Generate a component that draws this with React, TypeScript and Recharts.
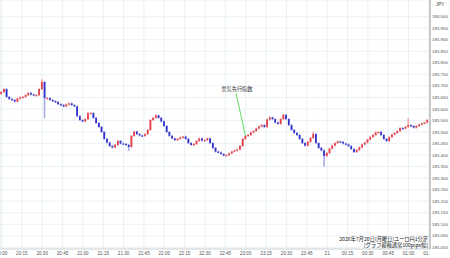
import React from 'react';
import { ComposedChart, Bar, XAxis, YAxis, CartesianGrid, ReferenceLine, ReferenceDot } from 'recharts';

// EUR/JPY 1-minute chart, resampled to 2-minute candles (minutes after 20:00)
const candleMinutes = 2;
const firstOpen = 185.665;
const closes: number[] = [
  185.673, 185.686, 185.652, 185.643, 185.639, 185.632, 185.645, 185.650, 185.652, 185.660,
  185.669, 185.663, 185.660, 185.660, 185.686, 185.717, 185.647, 185.647, 185.639, 185.634,
  185.630, 185.621, 185.617, 185.611, 185.619, 185.624, 185.617, 185.611, 185.569, 185.552,
  185.546, 185.556, 185.582, 185.582, 185.561, 185.539, 185.522, 185.500, 185.470, 185.454,
  185.439, 185.433, 185.444, 185.461, 185.450, 185.448, 185.444, 185.435, 185.483, 185.502,
  185.491, 185.485, 185.483, 185.491, 185.509, 185.552, 185.561, 185.572, 185.561, 185.546,
  185.526, 185.500, 185.483, 185.472, 185.465, 185.470, 185.476, 185.480, 185.470, 185.452,
  185.444, 185.448, 185.461, 185.472, 185.463, 185.465, 185.472, 185.452, 185.431, 185.415,
  185.411, 185.405, 185.398, 185.400, 185.407, 185.415, 185.420, 185.424, 185.439, 185.470,
  185.483, 185.487, 185.498, 185.504, 185.515, 185.524, 185.530, 185.522, 185.554, 185.563,
  185.556, 185.541, 185.535, 185.556, 185.574, 185.556, 185.530, 185.509, 185.496, 185.487,
  185.470, 185.452, 185.441, 185.457, 185.474, 185.491, 185.452, 185.431, 185.420, 185.396,
  185.409, 185.428, 185.441, 185.452, 185.459, 185.457, 185.450, 185.446, 185.439, 185.426,
  185.413, 185.422, 185.433, 185.446, 185.454, 185.467, 185.478, 185.487, 185.498, 185.500,
  185.487, 185.470, 185.461, 185.478, 185.489, 185.496, 185.504, 185.517, 185.515, 185.522,
  185.530, 185.526, 185.519, 185.526, 185.532, 185.537, 185.541, 185.552,
];
// long wicks (index -> price)
const wickHighs: Record<number, number> = { 15: 185.725, 115: 185.498, 150: 185.556 };
const wickLows: Record<number, number> = { 16: 185.565, 47: 185.422, 119: 185.353 };

const yTicks = [
  185.0, 185.05, 185.1, 185.15, 185.2, 185.25, 185.3, 185.35, 185.4, 185.45, 185.5,
  185.55, 185.6, 185.65, 185.7, 185.75, 185.8, 185.85, 185.9, 185.95, 186.0,
];
const xTicks = [0, 15, 30, 45, 60, 75, 90, 105, 120, 135, 150, 165, 180, 195, 210, 225, 240, 255, 270, 285, 300, 315];
const xTickLabels = [
  '20:00', '20:15', '20:30', '20:45', '21:00', '21:15', '21:30', '21:45', '22:00', '22:15', '22:30',
  '22:45', '23:00', '23:15', '23:30', '23:45', '21', '00:15', '00:30', '00:45', '01:00', '01:15',
];
const annotationText = '景気先行指数';
const annotationFrom = { m: 172.8, p: 185.669 };
const annotationTo = { m: 179.8, p: 185.483 };
const annotationLabel = { m: 173.5, p: 185.687 };
const footerLine1 = '2026年7月20日(月曜日)ユーロ円1分足';
const footerLine2 = '[グラフ縦軸通常100pips幅]';

const data = closes.map((c, i) => {
  const open = i === 0 ? firstOpen : closes[i - 1];
  const high = Math.max(open, c, wickHighs[i] ?? -Infinity);
  const low = Math.min(open, c, wickLows[i] ?? Infinity);
  return { m: i * candleMinutes, open, close: c, high, low, range: [low, high] };
});

const Candle = (props: any) => {
  const { x, y, width, height, payload } = props;
  if (!payload) return null;
  const { open, close, high, low } = payload;
  const up = close >= open;
  const body = up ? '#e2434b' : '#3434cc';
  const wick = up ? '#f2a4aa' : '#a9a9ea';
  const top = Math.min(y, y + height);
  const h = Math.abs(height);
  const span = high - low;
  const yOf = (v: number) => (span > 0 ? top + ((high - v) / span) * h : top);
  const cx = x + width / 2;
  const yo = yOf(open);
  const yc = yOf(close);
  const bTop = Math.min(yo, yc);
  const bH = Math.max(1.2, Math.abs(yo - yc));
  return (
    <g>
      <line x1={cx} x2={cx} y1={yOf(high) - 0.9} y2={yOf(low) + 0.9} stroke={wick} strokeWidth={1.6} />
      <rect x={cx - 0.9} y={bTop} width={1.8} height={bH} fill={body} />
    </g>
  );
};

const XTick = (props: any) => {
  const { x, y, payload, index } = props;
  const label = xTickLabels[xTicks.indexOf(payload.value)] ?? '';
  const id = `xclip${index}`;
  return (
    <g>
      <defs>
        <clipPath id={id}>
          <rect x={0} y={0} width={430} height={258} />
        </clipPath>
      </defs>
      <text x={x} y={y + 3.5} textAnchor="middle" fontSize={4.6} fill="#555" clipPath={`url(#${id})`}
        fontFamily="Liberation Sans, Arial, sans-serif">
        {label}
      </text>
    </g>
  );
};

const YTick = (props: any) => {
  const { x, y, payload } = props;
  return (
    <text x={x + 1} y={y + 1.6} textAnchor="start" fontSize={4.4} fill="#555"
      fontFamily="Liberation Sans, Arial, sans-serif">
      {Number(payload.value).toFixed(3)}
    </text>
  );
};

const AnnotationLabel = (props: any) => {
  const { viewBox } = props;
  const cx = viewBox.cx ?? viewBox.x;
  const cy = viewBox.cy ?? viewBox.y;
  return (
    <text x={cx} y={cy + 2} textAnchor="middle" fontSize={5.2} fill="#333"
      fontFamily="Noto Sans CJK JP, sans-serif">
      {annotationText}
    </text>
  );
};

export default function App() {
  return (
    <div style={{ position: 'absolute', left: 0, top: 0, width: 450, height: 258, background: '#fff' }}>
      <ComposedChart width={450} height={258} data={data} margin={{ top: 0, right: 0, left: 0, bottom: 0 }}>
        <CartesianGrid stroke="#e4edf2" strokeWidth={0.8} />
        <XAxis dataKey="m" type="number" domain={[-1.1, 315.8]} ticks={xTicks} allowDataOverflow
          height={9} tickLine={false} tickSize={0} axisLine={{ stroke: '#d0d6da' }} tick={<XTick />} interval={0} />
        <YAxis orientation="right" type="number" domain={[184.9926, 186.0724]} ticks={yTicks} allowDataOverflow
          width={20} tickLine={false} tickSize={0} tickMargin={1} axisLine={{ stroke: '#9a9a9a' }} interval={0}
          tick={<YTick />} />
        <Bar dataKey="range" barSize={2} shape={<Candle />} isAnimationActive={false} />
        <ReferenceLine segment={[{ x: annotationFrom.m, y: annotationFrom.p }, { x: annotationTo.m, y: annotationTo.p }]}
          stroke="#4ddc4d" strokeWidth={0.9} ifOverflow="visible" />
        <ReferenceDot x={annotationLabel.m} y={annotationLabel.p} r={0} stroke="none" fill="none"
          label={<AnnotationLabel />} ifOverflow="visible" />
      </ComposedChart>
      <div style={{ position: 'absolute', left: 436, top: 2, fontSize: 4.6, color: '#444',
        fontFamily: 'Liberation Sans, Arial, sans-serif', lineHeight: '6px' }}>JPY</div>
      <svg style={{ position: 'absolute', left: 0, top: 0 }} width={450} height={258} pointerEvents="none">
        <text x={428} y={241} textAnchor="end" fontSize={5.2} fill="#222" fontFamily="Noto Sans CJK JP, sans-serif">{footerLine1}</text>
        <text x={428} y={247} textAnchor="end" fontSize={5.2} fill="#222" fontFamily="Noto Sans CJK JP, sans-serif">{footerLine2}</text>
      </svg>
    </div>
  );
}
